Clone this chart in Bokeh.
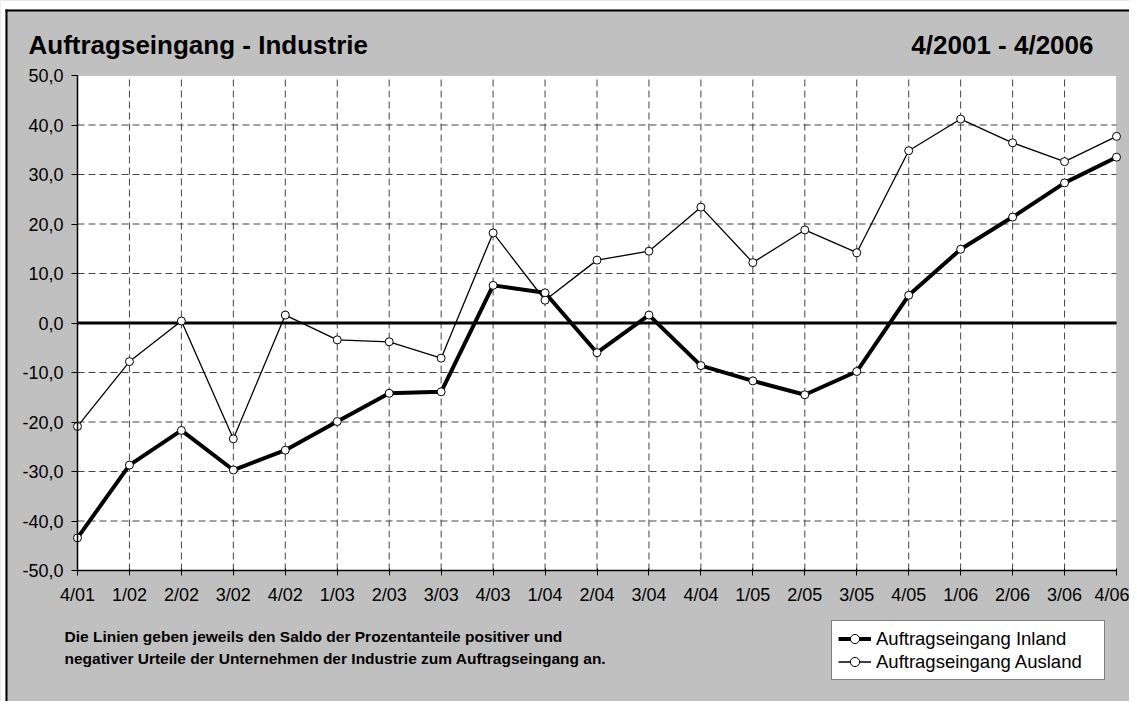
from bokeh.plotting import figure
from bokeh.models import (ColumnDataSource, FixedTicker, Legend, LegendItem,
                          Label, Range1d, BoxAnnotation)
from bokeh.embed import file_html
from bokeh.resources import INLINE

quarters = ["4/01", "1/02", "2/02", "3/02", "4/02", "1/03", "2/03", "3/03", "4/03",
            "1/04", "2/04", "3/04", "4/04", "1/05", "2/05", "3/05", "4/05", "1/06",
            "2/06", "3/06", "4/06"]
inland = [-43.4, -28.7, -21.7, -29.7, -25.7, -19.9, -14.2, -13.9, 7.6, 6.1, -6.0, 1.6,
          -8.6, -11.7, -14.5, -9.8, 5.6, 14.9, 21.4, 28.3, 33.5]
ausland = [-20.9, -7.8, 0.4, -23.4, 1.6, -3.4, -3.8, -7.1, 18.2, 4.6, 12.7, 14.5,
           23.4, 12.2, 18.8, 14.2, 34.8, 41.2, 36.4, 32.6, 37.7]
y_ticks = [-50, -40, -30, -20, -10, 0, 10, 20, 30, 40, 50]
y_tick_labels = ["-50,0", "-40,0", "-30,0", "-20,0", "-10,0", "0,0", "10,0", "20,0",
                 "30,0", "40,0", "50,0"]
title_left = "Auftragseingang - Industrie"
title_right = "4/2001 - 4/2006"
note_lines = ["Die Linien geben jeweils den Saldo der Prozentanteile positiver und",
              "negativer Urteile der Unternehmen der Industrie zum Auftragseingang an."]
series_names = ["Auftragseingang Inland", "Auftragseingang Ausland"]

FONT = "Liberation Sans"
GRAY = "#C0C0C0"
W, H = 1129, 701
# pixel layout of the plot area inside the canvas
PL, PR, PT, PB = 77, 1116, 75, 570

xs = list(range(len(quarters)))
x0, x1 = xs[0], xs[-1]
y0, y1 = y_ticks[0], y_ticks[-1]
kx = (PR - PL) / (x1 - x0)
ky = (PB - PT) / (y1 - y0)
x_range = Range1d(x0 - PL / kx, x1 + (W - PR) / kx)
y_range = Range1d(y0 - (H - PB) / ky, y1 + PT / ky)

src = ColumnDataSource(dict(x=xs, inland=inland, ausland=ausland))

p = figure(width=W, height=H, output_backend="svg", toolbar_location=None,
           x_range=x_range, y_range=y_range, title=None,
           min_border_left=0, min_border_top=0, min_border_right=0,
           min_border_bottom=0)
p.background_fill_color = GRAY
p.border_fill_color = GRAY
p.outline_line_color = None
p.grid.visible = False


def screen_box(left, right, bottom, top, color):
    return BoxAnnotation(left=left, right=right, bottom=bottom, top=top,
                         left_units="screen", right_units="screen",
                         bottom_units="screen", top_units="screen",
                         fill_color=color, fill_alpha=1, line_color=None,
                         level="underlay")


# page edge: white strip and black frame line at top/left
p.add_layout(screen_box(0, 5, 0, H, "white"))
p.add_layout(screen_box(0, W, H - 9, H, "white"))
p.add_layout(screen_box(5, 7, 0, H - 9, "black"))
p.add_layout(screen_box(5, W, H - 11, H - 9, "black"))

# white plot area
p.add_layout(BoxAnnotation(left=x0, right=x1, bottom=y0, top=y1, fill_color="white",
                           fill_alpha=1, line_color="#808080", line_width=1,
                           level="underlay"))

# dashed grid
inner_x = xs[1:-1]
inner_y = [t for t in y_ticks if t not in (y0, y1)]
p.segment(x0=inner_x, y0=[y0] * len(inner_x), x1=inner_x, y1=[y1] * len(inner_x),
          line_color="#444444", line_width=1, line_dash="7 4")
p.segment(x0=[x0] * len(inner_y), y0=inner_y, x1=[x1] * len(inner_y), y1=inner_y,
          line_color="#444444", line_width=1, line_dash="7 4")
# zero line
p.line(x=[x0, x1], y=[0, 0], line_color="black", line_width=3)

# axes at fixed locations
p.yaxis.fixed_location = x0
p.xaxis.fixed_location = y0
p.yaxis.bounds = (y0, y1)
p.xaxis.bounds = (x0, x1)
p.yaxis.ticker = FixedTicker(ticks=y_ticks)
p.yaxis.major_label_overrides = {t: l for t, l in zip(y_ticks, y_tick_labels)}
p.xaxis.ticker = FixedTicker(ticks=xs)
p.xaxis.major_label_overrides = {i: q for i, q in zip(xs, quarters)}
for ax in (p.xaxis, p.yaxis):
    ax.axis_line_color = "black"
    ax.axis_line_width = 1.5
    ax.major_tick_line_color = "black"
    ax.major_tick_line_width = 1
    ax.minor_tick_line_color = None
    ax.major_label_text_font = FONT
    ax.major_label_text_color = "black"
    ax.major_label_text_font_size = "18px"
p.yaxis.major_tick_out = 6
p.yaxis.major_tick_in = 0
p.xaxis.major_tick_out = 5
p.xaxis.major_tick_in = 2
p.yaxis.major_label_standoff = 8
p.xaxis.major_label_standoff = 9

l1 = p.line("x", "inland", source=src, line_color="black", line_width=4)
c1 = p.scatter("x", "inland", source=src, size=8, marker="circle",
               fill_color="white", line_color="black", line_width=1)
l2 = p.line("x", "ausland", source=src, line_color="black", line_width=1.3)
c2 = p.scatter("x", "ausland", source=src, size=8, marker="circle",
               fill_color="white", line_color="black", line_width=1)

legend = Legend(items=[LegendItem(label=series_names[0], renderers=[l1, c1]),
                       LegendItem(label=series_names[1], renderers=[l2, c2])],
                location=(831, H - 680))
legend.label_text_font = FONT
legend.label_text_font_size = "18.5px"
legend.label_text_color = "black"
legend.border_line_color = "black"
legend.border_line_width = 1
legend.background_fill_color = "white"
legend.background_fill_alpha = 1
legend.padding = 6
legend.spacing = 0
legend.margin = 0
legend.glyph_width = 33
legend.glyph_height = 23
legend.label_height = 23
legend.label_standoff = 5
legend.label_width = 222
p.add_layout(legend, "center")

p.add_layout(Label(x=28, y=H - 44, x_units="screen", y_units="screen", text=title_left,
                   text_font=FONT, text_font_size="26px", text_font_style="bold",
                   text_baseline="middle", text_align="left", text_color="black"))
p.add_layout(Label(x=1093, y=H - 44, x_units="screen", y_units="screen", text=title_right,
                   text_font=FONT, text_font_size="26px", text_font_style="bold",
                   text_baseline="middle", text_align="right", text_color="black"))
for i, line in enumerate(note_lines):
    p.add_layout(Label(x=64, y=H - 636 - 22 * i, x_units="screen", y_units="screen",
                       text=line, text_font=FONT, text_font_size="15.5px",
                       text_font_style="bold", text_baseline="middle",
                       text_align="left", text_color="black"))

open("out.html", "w").write(file_html(p, INLINE))
